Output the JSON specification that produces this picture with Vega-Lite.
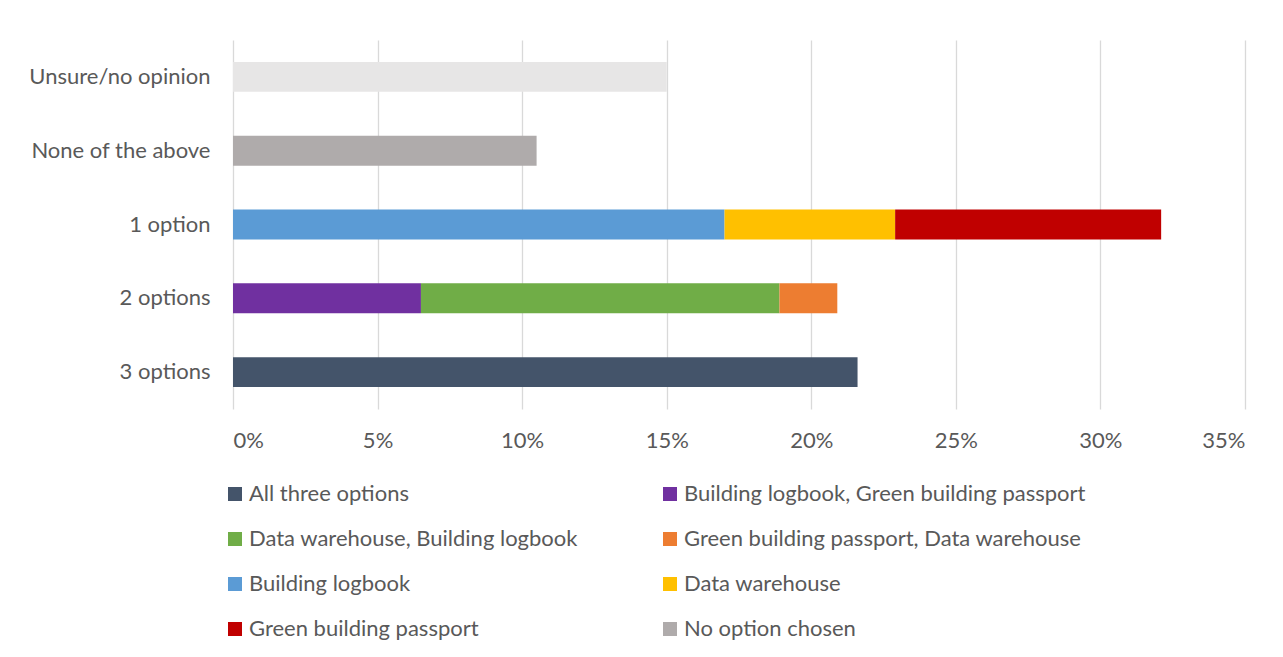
{
  "$schema": "https://vega.github.io/schema/vega-lite/v6.json",
  "autosize": {"type": "none"},
  "width": 1012,
  "height": 369,
  "padding": {"left": 233, "top": 40, "right": 38, "bottom": 248},
  "background": "white",
  "config": {
    "font": "Lato",
    "view": {"stroke": null},
    "axis": {"labelColor": "#595959", "labelFontSize": 22, "labelFont": "Lato"},
    "legend": {"labelColor": "#595959", "labelFontSize": 22, "labelFont": "Lato", "labelLimit": 0}
  },
  "data": {
    "values": [
      {"group": "Unsure/no opinion", "series": "Unsure/no opinion", "rank": 1, "share": 0.150},
      {"group": "None of the above", "series": "No option chosen", "rank": 1, "share": 0.105},
      {"group": "1 option", "series": "Building logbook", "rank": 1, "share": 0.170},
      {"group": "1 option", "series": "Data warehouse", "rank": 2, "share": 0.059},
      {"group": "1 option", "series": "Green building passport", "rank": 3, "share": 0.092},
      {"group": "2 options", "series": "Building logbook, Green building passport", "rank": 1, "share": 0.065},
      {"group": "2 options", "series": "Data warehouse, Building logbook", "rank": 2, "share": 0.124},
      {"group": "2 options", "series": "Green building passport, Data warehouse", "rank": 3, "share": 0.020},
      {"group": "3 options", "series": "All three options", "rank": 1, "share": 0.216}
    ]
  },
  "mark": {"type": "bar"},
  "encoding": {
    "y": {
      "field": "group",
      "type": "nominal",
      "sort": ["Unsure/no opinion", "None of the above", "1 option", "2 options", "3 options"],
      "scale": {"paddingInner": 0.595, "paddingOuter": 0.2975},
      "axis": {"title": null, "domain": false, "ticks": false, "labelPadding": 23, "grid": false, "labelLimit": 0}
    },
    "x": {
      "field": "share",
      "type": "quantitative",
      "stack": "zero",
      "scale": {"domain": [0, 0.35], "nice": false},
      "axis": {
        "title": null,
        "format": ".0%",
        "values": [0, 0.05, 0.1, 0.15, 0.2, 0.25, 0.3, 0.35],
        "domain": false,
        "ticks": false,
        "grid": true,
        "gridColor": "#d9d9d9",
        "gridWidth": 1.3,
        "labelPadding": 21
      }
    },
    "order": {"field": "rank", "type": "quantitative"},
    "color": {
      "field": "series",
      "type": "nominal",
      "scale": {
        "domain": [
          "All three options",
          "Building logbook, Green building passport",
          "Data warehouse, Building logbook",
          "Green building passport, Data warehouse",
          "Building logbook",
          "Data warehouse",
          "Green building passport",
          "No option chosen",
          "Unsure/no opinion"
        ],
        "range": ["#44546a", "#7030a0", "#70ad47", "#ed7d31", "#5b9bd5", "#ffc000", "#c00000", "#afabab", "#e7e6e6"]
      },
      "legend": {
        "title": null,
        "orient": "none",
        "legendX": -9,
        "legendY": 443,
        "direction": "horizontal",
        "columns": 2,
        "gridAlign": "each",
        "columnPadding": 81,
        "rowPadding": 23,
        "symbolType": "square",
        "symbolSize": 196,
        "symbolStrokeWidth": 0,
        "labelOffset": 3,
        "labelLimit": 0,
        "values": [
          "All three options",
          "Building logbook, Green building passport",
          "Data warehouse, Building logbook",
          "Green building passport, Data warehouse",
          "Building logbook",
          "Data warehouse",
          "Green building passport",
          "No option chosen"
        ]
      }
    }
  }
}
